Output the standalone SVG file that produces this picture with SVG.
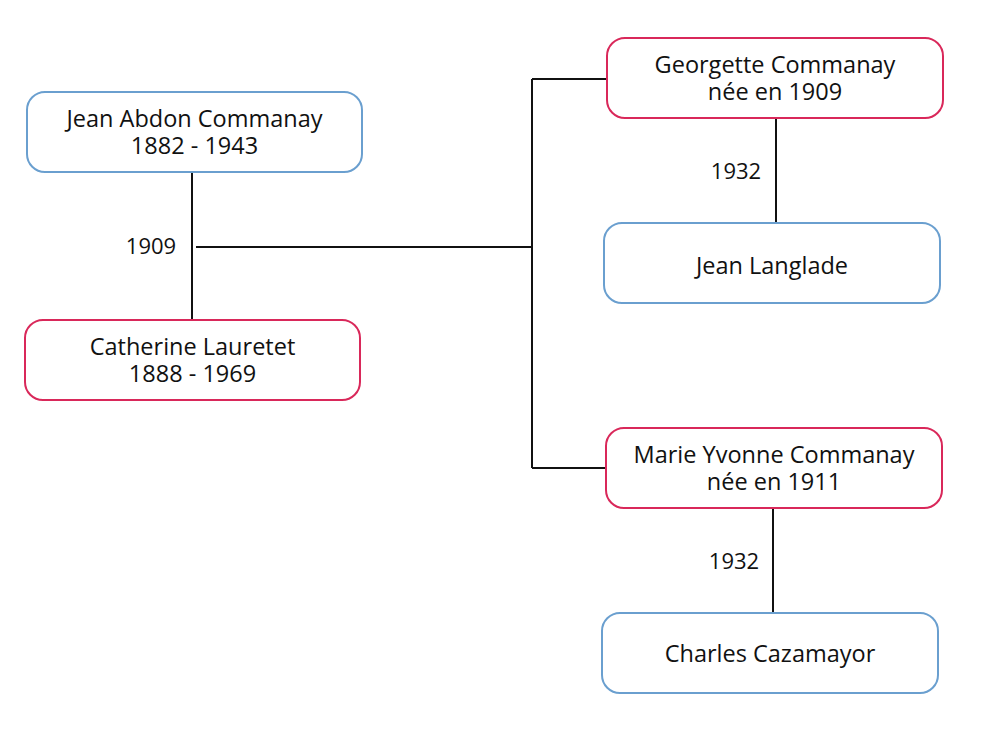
<svg xmlns="http://www.w3.org/2000/svg" width="1000" height="733" viewBox="0 0 1000 733">
<style>
  text { font-family: "Open Sans", "Liberation Sans", sans-serif; font-size: 23.5px; fill: #111; text-anchor: middle; }
  text.l { font-size: 22px; }
  .m { fill: #fff; stroke: #6a9fcf; stroke-width: 2; }
  .f { fill: #fff; stroke: #d9285a; stroke-width: 2; }
  .c { fill: none; stroke: #111; stroke-width: 2; }
</style>
<rect width="1000" height="733" fill="#fff"/>
<g id="connectors">
  <path class="c" d="M192 172 V320"/>
  <path class="c" d="M196 247 H532"/>
  <path class="c" d="M532 79 V468"/>
  <path class="c" d="M532 79 H607"/>
  <path class="c" d="M532 468 H606"/>
  <path class="c" d="M776 118 V223"/>
  <path class="c" d="M773 508 V613"/>
  <text class="l" x="151" y="254">1909</text>
  <text class="l" x="736" y="179">1932</text>
  <text class="l" x="734" y="569">1932</text>
</g>
<g id="jean-abdon">
  <rect class="m" x="27" y="92" width="335" height="80" rx="18"/>
  <text x="194.5" y="127">Jean Abdon Commanay</text>
  <text x="194.5" y="154">1882 - 1943</text>
</g>
<g id="catherine">
  <rect class="f" x="25" y="320" width="335" height="80" rx="18"/>
  <text x="192.5" y="355">Catherine Lauretet</text>
  <text x="192.5" y="382">1888 - 1969</text>
</g>
<g id="georgette">
  <rect class="f" x="607" y="38" width="336" height="80" rx="18"/>
  <text x="775" y="73">Georgette Commanay</text>
  <text x="775" y="100">née en 1909</text>
</g>
<g id="jean-langlade">
  <rect class="m" x="604" y="223" width="336" height="80" rx="18"/>
  <text x="772" y="274">Jean Langlade</text>
</g>
<g id="marie-yvonne">
  <rect class="f" x="606" y="428" width="336" height="80" rx="18"/>
  <text x="774" y="463">Marie Yvonne Commanay</text>
  <text x="774" y="490">née en 1911</text>
</g>
<g id="charles">
  <rect class="m" x="602" y="613" width="336" height="80" rx="18"/>
  <text x="770" y="662">Charles Cazamayor</text>
</g>
</svg>
